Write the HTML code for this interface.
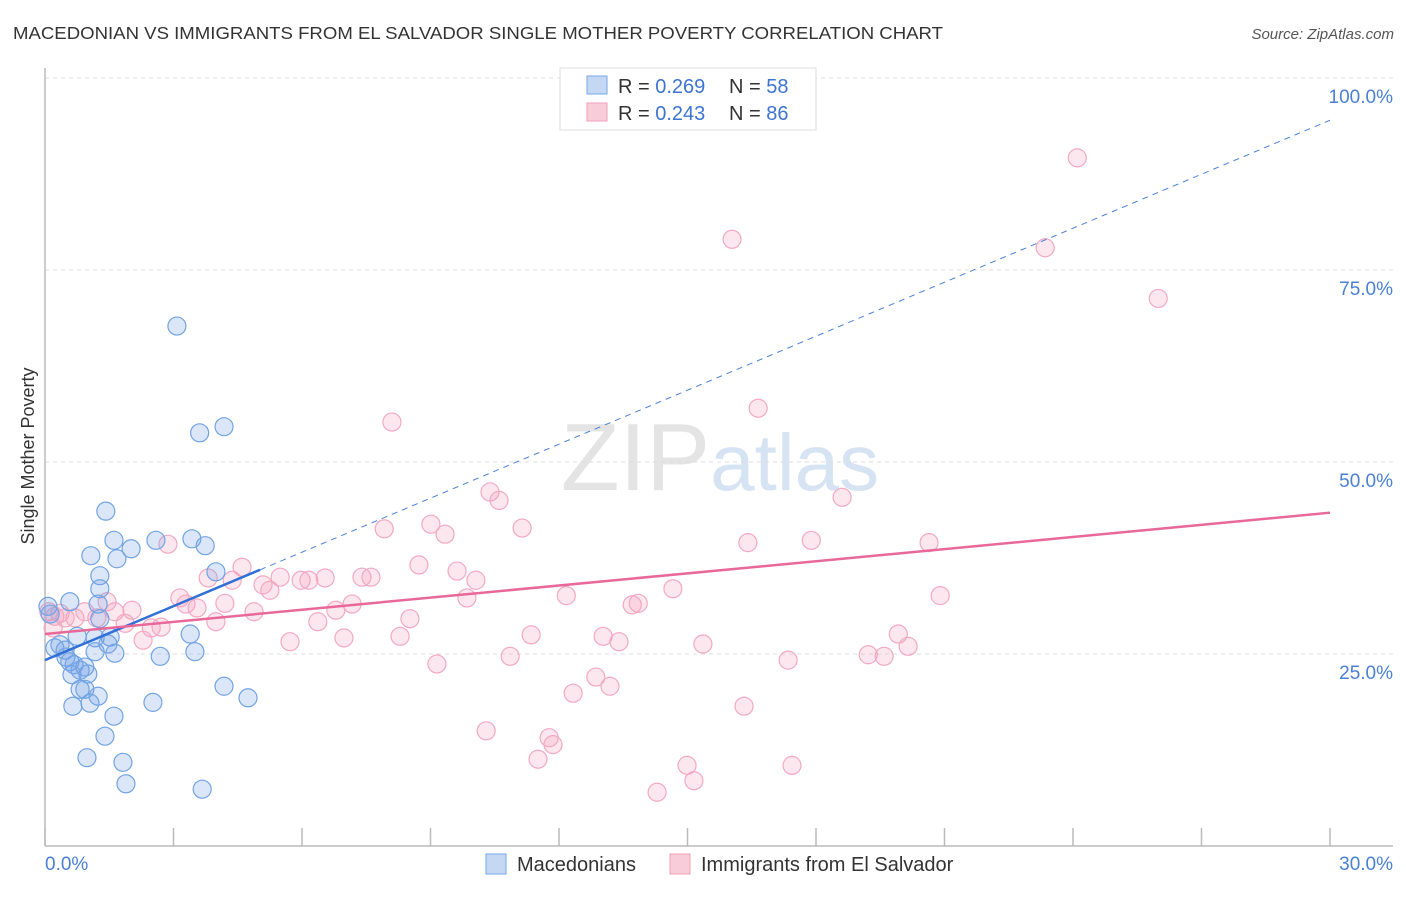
<!DOCTYPE html>
<html><head><meta charset="utf-8"><style>
body{margin:0;background:#fff;font-family:"Liberation Sans",sans-serif;}
svg text{font-family:"Liberation Sans",sans-serif;}
</style></head><body>
<svg id="chart" width="1406" height="892" xmlns="http://www.w3.org/2000/svg">
<text x="13" y="39" font-size="17.5" fill="#333" textLength="930" lengthAdjust="spacingAndGlyphs">MACEDONIAN VS IMMIGRANTS FROM EL SALVADOR SINGLE MOTHER POVERTY CORRELATION CHART</text>
<text x="1394" y="39" font-size="15" fill="#555" font-style="italic" text-anchor="end">Source: ZipAtlas.com</text>
<text x="720" y="490" font-size="96" text-anchor="middle" fill="#e4e4e4" font-family="Liberation Serif">ZIP<tspan fill="#d6e3f3" font-family="Liberation Sans" font-size="80">atlas</tspan></text>
<g id="grid"></g>
<g id="axes"></g>
<g id="pts"></g>
<g id="lines"></g>
<text transform="translate(34,456) rotate(-90)" font-size="18" fill="#333" text-anchor="middle">Single Mother Poverty</text>
<g>
<rect x="560" y="68" width="256" height="62" fill="#fff" stroke="#ddd"/>
<rect x="587" y="76" width="20" height="18" fill="#c4d8f4" stroke="#7aa6e4"/>
<text x="618" y="93" font-size="20" fill="#333">R = <tspan fill="#3d74d0">0.269</tspan></text>
<text x="729" y="93" font-size="20" fill="#333">N = <tspan fill="#3d74d0">58</tspan></text>
<rect x="587" y="103" width="20" height="18" fill="#f8ccd9" stroke="#f0a0b8"/>
<text x="618" y="120" font-size="20" fill="#333">R = <tspan fill="#3d74d0">0.243</tspan></text>
<text x="729" y="120" font-size="20" fill="#333">N = <tspan fill="#3d74d0">86</tspan></text>
</g>
<g>
<rect x="486" y="854" width="20" height="20" fill="#c4d8f4" stroke="#7aa6e4"/>
<text x="517" y="871" font-size="20" fill="#333">Macedonians</text>
<rect x="670" y="854" width="20" height="20" fill="#f8ccd9" stroke="#f0a0b8"/>
<text x="701" y="871" font-size="20" fill="#333">Immigrants from El Salvador</text>
</g>
</svg>
<script>
const xTicks=[0,3,6,9,12,15,18,21,24,27,30];
const yTicks=[25,50,75,100];
const yTickLabels=["25.0%","50.0%","75.0%","100.0%"];
const blueX=[3.08,3.61,4.18,1.42,1.61,2.59,3.43,3.74,2.01,1.07,1.68,1.28,3.99,1.28,1.24,0.58,0.07,0.12,1.28,3.39,0.75,1.52,1.17,1.47,0.35,0.23,0.47,1.17,1.63,3.5,2.69,0.49,0.58,0.68,0.93,0.82,1.0,0.63,0.82,0.93,4.18,1.24,4.74,1.05,0.65,2.52,1.61,1.40,0.98,1.82,1.89,3.67];
const blueY=[67.7,53.8,54.6,43.6,39.8,39.8,40.0,39.1,38.7,37.8,37.4,35.2,35.7,33.5,31.5,31.8,31.2,30.2,29.6,27.6,27.3,27.2,27.1,26.3,26.2,25.8,25.5,25.3,25.1,25.3,24.7,24.6,24.0,23.6,23.3,22.9,22.4,22.3,20.4,20.4,20.8,19.5,19.3,18.6,18.2,18.7,16.9,14.3,11.5,10.9,8.1,7.4];
const pinkX=[24.1,16.04,23.35,25.99,16.65,8.1,10.39,10.6,18.61,11.14,7.92,9.01,9.34,2.87,16.41,17.89,20.64,4.6,8.73,9.62,3.81,4.37,5.49,5.98,6.16,6.54,7.4,7.61,5.09,5.25,10.06,14.66,3.15,12.17,20.9,3.29,3.55,4.2,9.85,7.17,13.71,13.85,6.79,4.88,2.03,1.63,0.93,0.35,1.45,3.99,1.87,1.21,0.7,0.09,0.23,0.47,2.48,2.71,6.37,8.52,0.19,2.29,6.98,8.29,11.35,13.03,13.4,5.72,19.92,15.36,20.15,10.86,19.22,19.59,17.35,9.15,12.86,13.19,12.33,16.32,10.3,11.77,11.86,11.51,14.99,17.44,15.15,14.29];
const pinkY=[89.6,79.0,77.9,71.3,57.0,55.2,46.1,45.0,45.4,41.4,41.3,41.9,40.6,39.3,39.5,39.8,39.5,36.3,36.6,35.8,34.9,34.6,35.0,34.6,34.6,34.9,35.0,35.0,34.0,33.3,34.6,33.5,32.3,32.6,32.6,31.5,31.0,31.6,32.3,31.5,31.4,31.6,30.7,30.5,30.7,30.5,30.5,30.3,31.8,29.2,29.0,29.7,29.7,30.5,29.9,29.7,28.4,28.5,29.2,29.6,28.4,26.8,27.1,27.3,27.5,27.3,26.6,26.6,27.6,26.3,26.0,24.7,24.9,24.7,24.2,23.7,22.0,20.8,19.9,18.2,15.0,14.1,13.2,11.3,10.5,10.5,8.5,7.0];
const blueTrend=[24.2,94.5];
const blueSolidEnd=5.02;
const pinkTrend=[27.6,43.4];

const X0=45,X1=1330,Y0=846,YS=7.68;
const sx=v=>X0+(v/30)*(X1-X0);
const sy=v=>Y0-v*YS;
const NS="http://www.w3.org/2000/svg";
function mk(tag,attrs,parent){const e=document.createElementNS(NS,tag);for(const k in attrs)e.setAttribute(k,attrs[k]);parent.appendChild(e);return e;}
const grid=document.getElementById('grid'),axes=document.getElementById('axes'),pts=document.getElementById('pts'),lines=document.getElementById('lines');
yTicks.forEach((t,i)=>{
 const l=mk('line',{x1:X0,x2:1393,y1:sy(t),y2:sy(t),stroke:'#ddd','stroke-dasharray':'4,4'},grid);
 
 
 const tx=mk('text',{x:1393,y:sy(t)+25,'font-size':19,fill:'#4a7fd4','text-anchor':'end'},axes);
 tx.textContent=yTickLabels[i];
 
 
});
const ya=mk('line',{x1:X0,x2:X0,y1:68,y2:Y0,stroke:'#bbb','stroke-width':1.5},axes);


const xa=mk('line',{x1:X0,x2:1393,y1:Y0,y2:Y0,stroke:'#bbb','stroke-width':1.5},axes);


xTicks.forEach(t=>{
 const l=mk('line',{x1:sx(t),x2:sx(t),y1:828,y2:Y0,stroke:'#bbb','stroke-width':1.5},axes);
 
 
});
[[0,'0.0%','start',45],[30,'30.0%','end',1393]].forEach(a=>{
 const tx=mk('text',{x:a[3],y:870,'font-size':19,fill:'#4a7fd4','text-anchor':a[2]},axes);
 tx.textContent=a[1];
 
 
});
pinkX.forEach((x,i)=>{
 const c=mk('circle',{cx:sx(x),cy:sy(pinkY[i]),r:9,fill:'rgba(244,160,188,0.25)',stroke:'#f2a9c0','stroke-width':1.2},pts);
 
 
});
blueX.forEach((x,i)=>{
 const c=mk('circle',{cx:sx(x),cy:sy(blueY[i]),r:9,fill:'rgba(110,160,230,0.25)',stroke:'#72a3e2','stroke-width':1.2},pts);
 
 
});
const bAt=x=>blueTrend[0]+(blueTrend[1]-blueTrend[0])*x/30;
const bd=mk('line',{x1:sx(blueSolidEnd),y1:sy(bAt(blueSolidEnd)),x2:sx(30),y2:sy(blueTrend[1]),stroke:'#4a80d8','stroke-width':1,'stroke-dasharray':'6,5'},lines);


const bs=mk('line',{x1:sx(0),y1:sy(blueTrend[0]),x2:sx(blueSolidEnd),y2:sy(bAt(blueSolidEnd)),stroke:'#2f6fd6','stroke-width':2.5},lines);


const ps=mk('line',{x1:sx(0),y1:sy(pinkTrend[0]),x2:sx(30),y2:sy(pinkTrend[1]),stroke:'#e8689a','stroke-width':2.5},lines);


</script>
</body></html>
